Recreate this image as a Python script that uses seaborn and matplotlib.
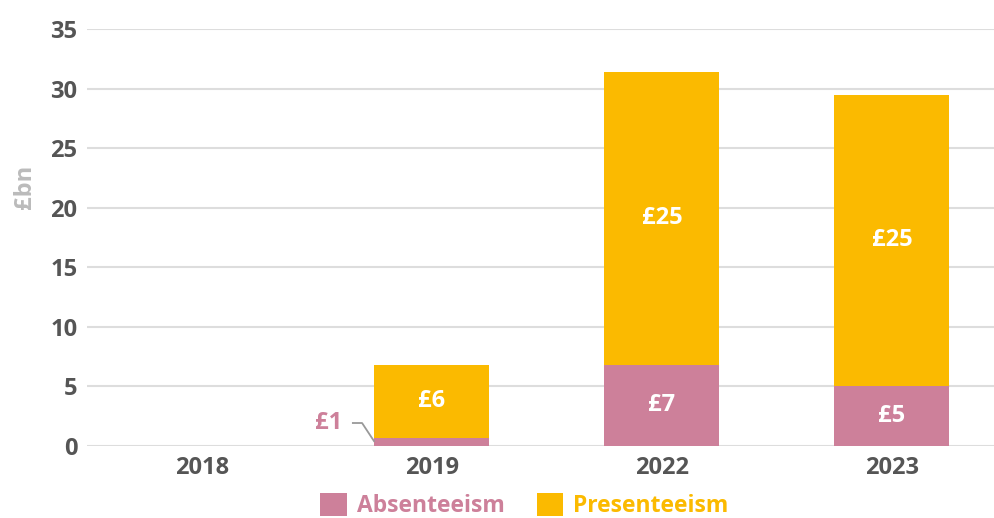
import matplotlib
matplotlib.use("Agg")
import matplotlib.pyplot as plt
import seaborn as sns
import pandas as pd
import numpy as np
from matplotlib.patches import Patch

years = ["2018", "2019", "2022", "2023"]
absenteeism = [np.nan, 0.7, 6.8, 5.0]
presenteeism = [np.nan, 6.1, 24.6, 24.5]
abs_labels = ["", "£1", "£7", "£5"]
pres_labels = ["", "£6", "£25", "£25"]
yticks = [0, 5, 10, 15, 20, 25, 30, 35]

PINK = "#CD809A"
YELLOW = "#FBBA00"
TICK = "#555555"

sns.set_theme(style="white")
plt.rcParams["font.family"] = ["Open Sans", "DejaVu Sans"]
plt.rcParams["font.weight"] = "bold"

df = pd.DataFrame({
    "year": years,
    "absenteeism": absenteeism,
    "presenteeism": presenteeism,
})
df["total"] = df["absenteeism"] + df["presenteeism"]

fig = plt.figure(figsize=(9.95, 5.18), dpi=100)
ax = fig.add_axes([87/995, (518-446)/518, 1 - 87/995, (446-29)/518])

sns.barplot(data=df, x="year", y="total", order=years, color=YELLOW,
            width=0.5, saturation=1, ax=ax, zorder=2, linewidth=0, edgecolor="none")
sns.barplot(data=df, x="year", y="absenteeism", order=years, color=PINK,
            width=0.5, saturation=1, ax=ax, zorder=3, linewidth=0, edgecolor="none")

ax.set_ylim(0, 35)
ax.set_xlim(-0.5, 3.448)
ax.set_yticks(yticks)
ax.yaxis.grid(True, color="#DDDDDD", linewidth=1.5, zorder=0)
ax.set_axisbelow(True)
for s in ax.spines.values():
    s.set_visible(False)
ax.tick_params(axis="y", length=0, pad=7, labelsize=17, labelcolor=TICK)
ax.tick_params(axis="x", length=0, pad=7, labelsize=17, labelcolor=TICK)
for lab in ax.get_xticklabels() + ax.get_yticklabels():
    lab.set_fontweight("bold")
ax.set_xlabel("")
ax.set_ylabel("")

# data labels
for i in range(len(years)):
    a = absenteeism[i]
    p = presenteeism[i]
    if np.isnan(a):
        continue
    ax.text(i, a + p / 2, pres_labels[i], ha="center", va="center",
            color="white", fontsize=17, fontweight="bold", zorder=4)
    if a > 2:
        ax.text(i, a / 2, abs_labels[i], ha="center", va="center",
                color="white", fontsize=17, fontweight="bold", zorder=4)
    else:
        ax.text(i - 0.39, 1.93, abs_labels[i], ha="right", va="center",
                color=PINK, fontsize=17, fontweight="bold", zorder=4)
        ax.plot([i - 0.348, i - 0.304, i - 0.25], [1.93, 1.93, a / 2],
                color="#999999", lw=1.3, zorder=4, solid_capstyle="butt")

# y label
fig.text(25/995, 1 - 187/518, "£bn", rotation=90, ha="center", va="center",
         color="#BBBBBB", fontsize=17, fontweight="bold")

# legend
handles = [Patch(facecolor=PINK, edgecolor="none"), Patch(facecolor=YELLOW, edgecolor="none")]
leg = fig.legend(handles, ["Absenteeism", "Presenteeism"], loc="lower center",
                 bbox_to_anchor=(0.527, -0.04), ncol=2, frameon=False,
                 handlelength=1.15, handleheight=1.15, handletextpad=0.45,
                 columnspacing=1.4, prop={"size": 16.5, "weight": "bold"})
for t, c in zip(leg.get_texts(), [PINK, YELLOW]):
    t.set_color(c)

fig.savefig("out.png", dpi=100)
